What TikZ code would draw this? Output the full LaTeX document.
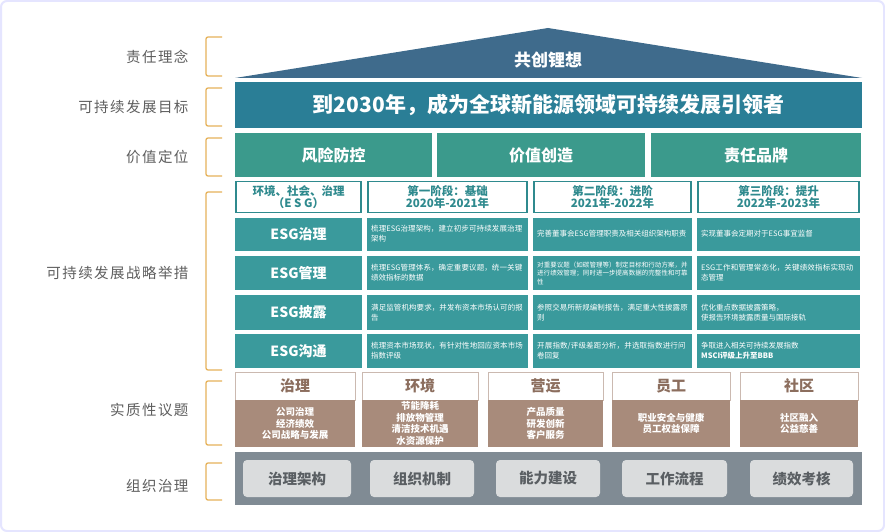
\documentclass[tikz,border=0pt]{standalone}
\usepackage{fontspec}
\setmainfont{Noto Sans CJK SC}
\XeTeXlinebreaklocale "zh"
\XeTeXlinebreakskip=0pt plus 1pt
\usetikzlibrary{positioning}
\definecolor{roof}{HTML}{3F6B8C}
\definecolor{goal}{HTML}{2A7E96}
\definecolor{val}{HTML}{3B9A8C}
\definecolor{esg}{HTML}{3A9A9C}
\definecolor{brd}{HTML}{2F8A8E}
\definecolor{brn}{HTML}{A88B7B}
\definecolor{brntx}{HTML}{8C6E5E}
\definecolor{gband}{HTML}{808B94}
\definecolor{gbox}{HTML}{DADCDD}
\definecolor{gtx}{HTML}{5A5F63}
\definecolor{org}{HTML}{E6B25A}
\definecolor{lbl}{HTML}{5E5E5E}
\tikzset{
 x=1pt,y=-1pt,
 lefttx/.style={anchor=east,text=lbl,font=\fontsize{14.5}{14.5}\selectfont\addfontfeatures{LetterSpace=10}},
 brk/.style={draw=org,line width=1.3pt,rounded corners=2pt},
 valbox/.style={fill=val,text=white,font=\fontsize{16}{16}\selectfont\bfseries},
 hdr/.style={draw=brd,line width=1.2pt,fill=white,text=brd,align=center,font=\fontsize{11.5}{12.5}\selectfont\bfseries},
 esglab/.style={fill=esg,text=white,font=\fontsize{14}{14}\selectfont\bfseries},
 esgtx/.style={fill=esg,text=white,align=left,anchor=west,font=\fontsize{7.5}{10}\selectfont},
 mathd/.style={fill=white,draw=brn!60,text=brntx,font=\fontsize{15}{15}\selectfont\bfseries},
 matb/.style={fill=brn,text=white,align=center,font=\fontsize{9.5}{11.5}\selectfont\bfseries},
 gb/.style={fill=gbox,rounded corners=4pt,text=gtx,font=\fontsize{14.5}{14.5}\selectfont\bfseries},
}
\begin{document}
\begin{tikzpicture}
\useasboundingbox (0,0) rectangle (885,532);
\fill[white] (0,0) rectangle (885,532);
\draw[draw=blue!10,line width=2pt,rounded corners=6pt] (1,1) rectangle (884,531);
% left labels
\node[lefttx] (l1) at (192,57) {责任理念};
\node[lefttx] (l2) at (192,107) {可持续发展目标};
\node[lefttx] (l3) at (192,157) {价值定位};
\node[lefttx] (l4) at (192,273) {可持续发展战略举措};
\node[lefttx] (l5) at (192,410) {实质性议题};
\node[lefttx] (l6) at (192,486) {组织治理};
\foreach \a/\b in {37/76,88/126,138/176,192/370,381/445,463/500}
  \draw[brk] (222,\a) -- (206,\a) -- (206,\b) -- (222,\b);
% roof
\fill[roof] (235,78) -- (548,28) -- (862,78) -- cycle;
\node[text=white,font=\fontsize{17}{17}\selectfont\bfseries] (roof) at (548,60) {共创锂想};
% goal
\node[fill=goal,minimum width=627,minimum height=46,inner sep=0,text=white,font=\fontsize{21}{21}\selectfont\bfseries] (goal) at (548.5,105) {到2030年，成为全球新能源领域可持续发展引领者};
% values
\node[valbox,minimum width=197,minimum height=44,inner sep=0] (v1) at (333.5,155) {风险防控};
\node[valbox,minimum width=208,minimum height=44,inner sep=0] (v2) at (541,155) {价值创造};
\node[valbox,minimum width=210,minimum height=44,inner sep=0] (v3) at (756,155) {责任品牌};
% header row
\node[hdr,minimum width=125,minimum height=31,inner sep=0] (h0) at (298.5,197) {环境、社会、治理\\（E S G）};
\node[hdr,minimum width=159,minimum height=31,inner sep=0] (h1) at (447.5,197) {第一阶段：基础\\2020年-2021年};
\node[hdr,minimum width=157,minimum height=31,inner sep=0] (h2) at (612.5,197) {第二阶段：进阶\\2021年-2022年};
\node[hdr,minimum width=161,minimum height=31,inner sep=0] (h3) at (778.5,197) {第三阶段：提升\\2022年-2023年};
% ESG rows
\foreach \n/\yc/\hh/\lab in {1/234/33/ESG治理,2/273/34/ESG管理,3/312.5/35/ESG披露,4/351/34/ESG沟通}{
  \node[esglab,minimum width=127,minimum height=\hh,inner sep=0] (e\n) at (298.5,\yc) {\lab};
}
\tikzset{c1/.style={esgtx,minimum width=161,text width=153,inner sep=4pt},
         c2/.style={esgtx,minimum width=159,text width=151,inner sep=4pt},
         c3/.style={esgtx,minimum width=163,text width=155,inner sep=4pt}}
\node[c1,minimum height=33] (a1) at (367,234) {梳理ESG治理架构，建立初步可持续发展治理架构};
\node[c1,minimum height=34] (a2) at (367,273) {梳理ESG管理体系，确定重要议题，统一关键绩效指标的数据};
\node[c1,minimum height=35] (a3) at (367,312.5) {满足监管机构要求，并发布资本市场认可的报告};
\node[c1,minimum height=34] (a4) at (367,351) {梳理资本市场现状，有针对性地回应资本市场指数评级};
\node[c2,minimum height=33] (b1) at (533,234) {完善董事会ESG管理职责及相关组织架构职责};
\node[c2,minimum height=34,font=\fontsize{6.5}{8.5}\selectfont] (b2) at (533,273) {对重要议题（如碳管理等）制定目标和行动方案，并进行绩效管理；同时进一步提高数据的完整性和可靠性};
\node[c2,minimum height=35] (b3) at (533,312.5) {参照交易所新规编制报告，满足重大性披露原则};
\node[c2,minimum height=34] (b4) at (533,351) {开展指数/评级差距分析，并选取指数进行问卷回复};
\node[c3,minimum height=33] (d1) at (697,234) {实现董事会定期对于ESG事宜监督};
\node[c3,minimum height=34] (d2) at (697,273) {ESG工作和管理常态化，关键绩效指标实现动态管理};
\node[c3,minimum height=35] (d3) at (697,312.5) {优化重点数据披露策略，\\使报告环境披露质量与国际接轨};
\node[c3,minimum height=34] (d4) at (697,351) {争取进入相关可持续发展指数\\\textbf{MSCI评级上升至BBB}};
% material topics
\foreach \n/\xa/\xb/\t/\body in {
  1/235/355/治理/{公司治理\\经济绩效\\公司战略与发展},
  2/362/478/环境/{节能降耗\\排放物管理\\清洁技术机遇\\水资源保护},
  3/488/603/营运/{产品质量\\研发创新\\客户服务},
  4/612/730/员工/{职业安全与健康\\员工权益保障},
  5/740/858/社区/{社区融入\\公益慈善}}{
  \node[mathd,minimum width=\xb-\xa,minimum height=28,inner sep=0] (m\n) at ({(\xa+\xb)/2},386) {\t};
  \node[matb,minimum width=\xb-\xa,minimum height=47,inner sep=0] (mb\n) at ({(\xa+\xb)/2},423.5) {\body};
}
% org governance
\node[fill=gband,minimum width=627,minimum height=53,inner sep=0] (band) at (548.5,478.5) {};
\foreach \n/\xa/\xb/\t in {1/243/351/治理架构,2/370/474/组织机制,3/496/600/能力建设,4/622/727/工作流程,5/750/853/绩效考核}
  \node[gb,minimum width=\xb-\xa,minimum height=37,inner sep=0] (g\n) at ({(\xa+\xb)/2},478.5) {\t};
\end{tikzpicture}
\end{document}
